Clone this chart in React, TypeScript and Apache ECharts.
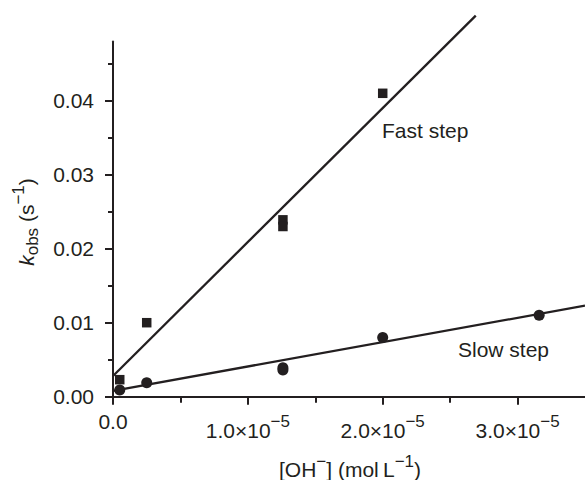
import React, { useEffect, useRef } from "react";
import * as echarts from "echarts";

// ---- data ----
const fastX = [0.05e-5, 0.25e-5, 1.26e-5, 1.26e-5, 2.0e-5];
const fastY = [0.0023, 0.01, 0.0239, 0.023, 0.041];
const slowX = [0.05e-5, 0.25e-5, 1.26e-5, 1.26e-5, 2.0e-5, 3.16e-5];
const slowY = [0.0009, 0.0019, 0.0039, 0.0036, 0.008, 0.011];
// fitted lines (endpoints)
const fastFitX = [0, 2.69e-5];
const fastFitY = [0.0028, 0.0515];
const slowFitX = [0, 3.5e-5];
const slowFitY = [0.0008, 0.0123];
// ticks
const xMajorTicks = [0, 1e-5, 2e-5, 3e-5];
const xMinorTicks = [0.5e-5, 1.5e-5, 2.5e-5];
const xTickMantissa = ["0.0", "1.0", "2.0", "3.0"];
const xTickExponent = ["", "−5", "−5", "−5"];
const yMajorTicks = [0, 0.01, 0.02, 0.03, 0.04];
const yMinorTicks = [0.005, 0.015, 0.025, 0.035, 0.045];
const yTickLabels = ["0.00", "0.01", "0.02", "0.03", "0.04"];

const INK = "#231f20";
const FONT = '"Liberation Sans", Arial, Helvetica, sans-serif';

export default function App() {
  const ref = useRef<HTMLDivElement>(null);
  useEffect(() => {
    if (!ref.current) return;
    const chart = echarts.init(ref.current, undefined, { renderer: "svg" });
    const zip = (xs: number[], ys: number[]) => xs.map((x, i) => [x, ys[i]]);
    const axisBase = {
      type: "value" as const,
      splitLine: { show: false },
    };
    chart.setOption({
      animation: false,
      backgroundColor: "#ffffff",
      grid: { left: 113, right: -4, top: 41.5, bottom: 83.3, containLabel: false },
      xAxis: [
        {
          ...axisBase,
          position: "bottom",
          min: 0,
          max: 3.5e-5,
          interval: 0.5e-5,
          axisLine: { show: true, lineStyle: { color: INK, width: 2 } },
          axisTick: { show: true, customValues: xMajorTicks, length: 8, lineStyle: { color: INK, width: 2 } },
          axisLabel: {
            show: true,
            customValues: xMajorTicks,
            margin: 14,
            color: INK,
            fontSize: 21,
            fontFamily: FONT,
            formatter: (v: number) => {
              let idx = 0;
              let best = Infinity;
              xMajorTicks.forEach((t, i) => {
                const d = Math.abs(t - v);
                if (d < best) { best = d; idx = i; }
              });
              if (!xTickExponent[idx]) return xTickMantissa[idx];
              return `{b|${xTickMantissa[idx]}×10}{s|${xTickExponent[idx]}}`;
            },
            rich: {
              b: { fontSize: 21, fontFamily: FONT, color: INK, padding: [9, 0, 0, 0] },
              s: { fontSize: 17, fontFamily: FONT, color: INK, verticalAlign: "top", padding: [2, 0, 0, 0] },
            },
          },
        },
        {
          ...axisBase,
          position: "bottom",
          min: 0,
          max: 3.5e-5,
          interval: 0.5e-5,
          axisLine: { show: false },
          axisTick: { show: true, customValues: xMinorTicks, length: 6, lineStyle: { color: INK, width: 2 } },
          axisLabel: { show: false },
        },
      ],
      yAxis: [
        {
          ...axisBase,
          position: "left",
          min: 0,
          max: 0.048,
          interval: 0.005,
          axisLine: { show: true, lineStyle: { color: INK, width: 2 } },
          axisTick: { show: true, customValues: yMajorTicks, length: 8, lineStyle: { color: INK, width: 2 } },
          axisLabel: {
            show: true,
            customValues: yMajorTicks,
            margin: 19,
            color: INK,
            fontSize: 21,
            fontFamily: FONT,
            formatter: (v: number) => {
              let idx = 0;
              let best = Infinity;
              yMajorTicks.forEach((t, i) => {
                const d = Math.abs(t - v);
                if (d < best) { best = d; idx = i; }
              });
              return yTickLabels[idx];
            },
          },
        },
        {
          ...axisBase,
          position: "left",
          min: 0,
          max: 0.048,
          interval: 0.005,
          axisLine: { show: false },
          axisTick: { show: true, customValues: yMinorTicks, length: 5, lineStyle: { color: INK, width: 2 } },
          axisLabel: { show: false },
        },
      ],
      series: [
        {
          type: "line",
          data: zip(fastFitX, fastFitY),
          symbol: "none",
          clip: false,
          lineStyle: { color: INK, width: 2.3 },
          z: 2,
        },
        {
          type: "line",
          data: zip(slowFitX, slowFitY),
          symbol: "none",
          clip: false,
          lineStyle: { color: INK, width: 2.3 },
          z: 2,
        },
        {
          type: "scatter",
          data: zip(fastX, fastY),
          symbol: "rect",
          symbolSize: 9.5,
          itemStyle: { color: INK, opacity: 1 },
          clip: false,
          z: 3,
        },
        {
          type: "scatter",
          data: zip(slowX, slowY),
          symbol: "circle",
          symbolSize: 11,
          itemStyle: { color: INK, opacity: 1 },
          clip: false,
          z: 3,
        },
      ],
      graphic: [
        {
          type: "text",
          x: 382,
          y: 130,
          style: { text: "Fast step", fill: INK, fontSize: 21, fontFamily: FONT, align: "left", verticalAlign: "middle" },
        },
        {
          type: "text",
          x: 458,
          y: 349,
          style: { text: "Slow step", fill: INK, fontSize: 21, fontFamily: FONT, align: "left", verticalAlign: "middle" },
        },
        {
          type: "text",
          x: 350,
          y: 466,
          style: {
            text: "{n|[OH}{s|−}{n|] (mol\u2009L}{s|−1}{n|)}",
            fill: INK,
            fontSize: 21,
            fontFamily: FONT,
            align: "center",
            verticalAlign: "middle",
            rich: {
              n: { fontSize: 21, fontFamily: FONT, fill: INK, color: INK, padding: [6, 0, 0, 0] },
              s: { fontSize: 17, fontFamily: FONT, fill: INK, color: INK, verticalAlign: "top", padding: [0, 0, 0, 0] },
            },
          },
        },
        {
          type: "text",
          x: 25,
          y: 222,
          rotation: Math.PI / 2,
          style: {
            text: "{k|k}{sub|obs}{n| (s}{sup|−1}{n|)}",
            fill: INK,
            fontSize: 21,
            fontFamily: FONT,
            align: "center",
            verticalAlign: "middle",
            rich: {
              k: { fontSize: 21, fontFamily: FONT, fontStyle: "italic", fill: INK, color: INK, padding: [6, 0, 4, 0] },
              n: { fontSize: 21, fontFamily: FONT, fill: INK, color: INK, padding: [6, 0, 4, 0] },
              sub: { fontSize: 17, fontFamily: FONT, fill: INK, color: INK, verticalAlign: "bottom" },
              sup: { fontSize: 17, fontFamily: FONT, fill: INK, color: INK, verticalAlign: "top" },
            },
          },
        },
      ],
    });
    return () => chart.dispose();
  }, []);
  return (
    <div
      ref={ref}
      style={{ position: "fixed", left: 0, top: 0, width: 585, height: 480, background: "#fff" }}
    />
  );
}
